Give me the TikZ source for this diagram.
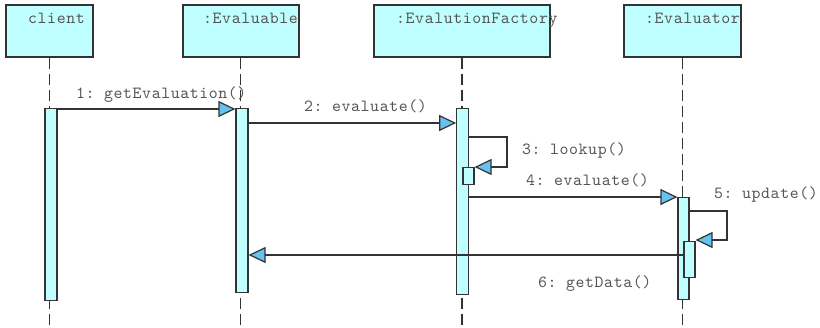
\documentclass[tikz,border=0pt]{standalone}
\usepackage{fontspec}
\setmonofont{lmmono10-regular.otf}[LetterSpace=3.5]
\usetikzlibrary{arrows.meta}
\definecolor{boxfill}{HTML}{C0FFFF}
\definecolor{tipfill}{HTML}{66C2EE}
\definecolor{linecol}{HTML}{333333}
\definecolor{txtcol}{HTML}{555555}
\begin{document}
\begin{tikzpicture}[x=1pt,y=-1pt,
  head/.style={draw=linecol,line width=1.2pt,fill=boxfill,inner sep=0pt,minimum height=52pt},
  act/.style={draw=linecol,line width=1.2pt,fill=boxfill,inner sep=0pt,anchor=north},
  lifeline/.style={draw=linecol,line width=1.2pt,dash pattern=on 11pt off 5pt},
  msg/.style={draw=linecol,line width=1.2pt,-{Triangle[length=17pt,width=16pt,fill=tipfill]}},
  txt/.style={font=\ttfamily\fontsize{17}{20}\selectfont,text=txtcol,anchor=base west,inner sep=0pt}]
\useasboundingbox (0,0) rectangle (820,327);
% heads
\node[head,minimum width=87pt] (hclient) at (49.5,31) {};
\node[head,minimum width=116pt] (heval) at (241,31) {};
\node[head,minimum width=176pt] (hfact) at (462,31) {};
\node[head,minimum width=117pt] (hevor) at (682.5,31) {};
\node[txt] (tclient) at (28,23) {client};
\node[txt] (teval) at (203,23) {:Evaluable};
\node[txt] (tfact) at (396,23) {:EvalutionFactory};
\node[txt] (tevor) at (645,23) {:Evaluator};
% lifelines
\coordinate (eclient) at (49.5,327);
\coordinate (eeval) at (240.5,327);
\coordinate (efact) at (462,327);
\coordinate (eevor) at (682.5,327);
\draw[lifeline] (hclient.south) -- (eclient);
\draw[lifeline] (heval.south -| eeval) -- (eeval);
\draw[lifeline] (hfact.south) -- (efact);
\draw[lifeline] (hevor.south) -- (eevor);
% activations
\node[act,minimum width=12pt,minimum height=192pt] (a1) at (51,108) {};
\node[act,minimum width=12pt,minimum height=184pt] (a2) at (242,108) {};
\node[act,minimum width=11.5pt,minimum height=186pt] (a3) at (462.5,108) {};
\node[act,minimum width=11pt,minimum height=17pt] (a3b) at (468.5,167) {};
\node[act,minimum width=11pt,minimum height=102pt] (a4) at (683.5,197) {};
\node[act,minimum width=11pt,minimum height=36pt] (a4b) at (689.5,241) {};
% messages
\draw[msg] (a1.east |- 0,109) -- (a2.west |- 0,109);
\node[txt] (m1) at (76,98) {1: getEvaluation()};
\draw[msg] (a2.east |- 0,123) -- (a3.west |- 0,123);
\node[txt] (m2) at (304,111) {2: evaluate()};
\draw[msg] (a3.east |- 0,137) -- (507,137) -- (507,167) -- (a3b.east |- 0,167);
\node[txt] (m3) at (522,154) {3: lookup()};
\draw[msg] (a3.east |- 0,197) -- (a4.west |- 0,197);
\node[txt] (m4) at (526,185) {4: evaluate()};
\draw[msg] (a4.east |- 0,211) -- (727,211) -- (727,240) -- (a4b.east |- 0,240);
\node[txt] (m5) at (714,198) {5: update()};
\draw[msg] (a4b.west |- 0,255) -- (a2.east |- 0,255);
\node[txt] (m6) at (538,287) {6: getData()};
\end{tikzpicture}
\end{document}
